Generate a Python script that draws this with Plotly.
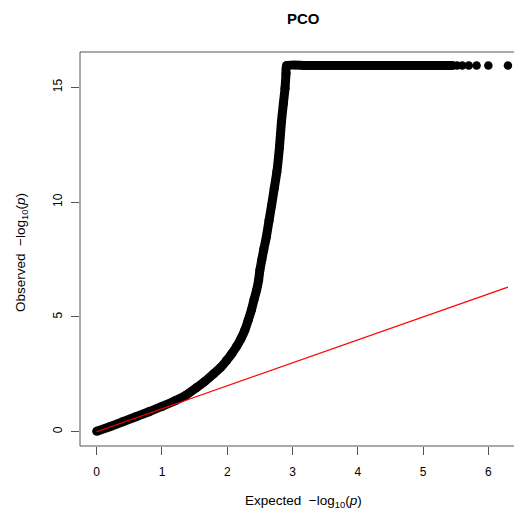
import plotly.graph_objects as go

# QQ curve (expected, observed -log10 p)
curve_expected = [0.00, 0.20, 0.40, 0.60, 0.80, 1.00, 1.20, 1.35, 1.53, 1.66, 1.79, 1.90,
                  1.99, 2.07, 2.14, 2.21, 2.27, 2.32, 2.37, 2.41, 2.45, 2.48, 2.50, 2.53,
                  2.56, 2.60, 2.64, 2.68, 2.72, 2.76, 2.80, 2.83, 2.86, 2.885, 2.90, 2.91,
                  3.20, 3.60, 4.00, 4.40, 4.80, 5.10, 5.30, 5.40, 5.45]
curve_observed = [0.02, 0.22, 0.43, 0.65, 0.87, 1.10, 1.35, 1.56, 1.92, 2.20, 2.52, 2.80,
                  3.10, 3.40, 3.70, 4.05, 4.43, 4.85, 5.30, 5.75, 6.17, 6.60, 7.04, 7.50,
                  7.95, 8.50, 9.20, 9.87, 10.60, 11.32, 12.40, 13.50, 14.30, 14.96, 15.60, 15.95,
                  15.95, 15.95, 15.95, 15.95, 15.95, 15.95, 15.95, 15.95, 15.95]

tail_expected = [5.52, 5.60, 5.70, 5.82, 6.00, 6.30]
tail_observed = [15.95, 15.95, 15.95, 15.95, 15.95, 15.95]

diag_x = [0, 6.3]
diag_y = [0, 6.3]

x_ticks = [0, 1, 2, 3, 4, 5, 6]
y_ticks = [0, 5, 10, 15]

FONT = "Liberation Sans, Arial, Helvetica, sans-serif"
AXC = "#555555"

fig = go.Figure()
fig.add_trace(go.Scatter(x=curve_expected, y=curve_observed, mode="lines+markers",
                         line=dict(color="black", width=9, shape="spline", smoothing=0.6),
                         marker=dict(color="black", size=9),
                         hoverinfo="skip", showlegend=False))
fig.add_trace(go.Scatter(x=tail_expected, y=tail_observed, mode="markers",
                         marker=dict(color="black", size=8.5),
                         hoverinfo="skip", showlegend=False))
fig.add_trace(go.Scatter(x=diag_x, y=diag_y, mode="lines",
                         line=dict(color="red", width=1.2),
                         hoverinfo="skip", showlegend=False))

fig.update_layout(
    width=514, height=515,
    margin=dict(l=80, r=0, t=52, b=69, pad=0),
    paper_bgcolor="white", plot_bgcolor="white",
    font=dict(family=FONT, size=12, color="black"),
    showlegend=False,
    xaxis=dict(range=[-0.256, 6.393], tickvals=x_ticks, ticktext=[str(v) for v in x_ticks],
               ticks="outside", ticklen=8, tickcolor=AXC, tickwidth=1,
               showgrid=False, zeroline=False, showline=False,
               ticklabelstandoff=7, tickfont=dict(size=12, color="black")),
    yaxis=dict(range=[-0.623, 16.54], tickvals=y_ticks, ticktext=[str(v) for v in y_ticks],
               ticks="outside", ticklen=8, tickcolor=AXC, tickwidth=1,
               showgrid=False, zeroline=False, showline=False, tickangle=-90,
               ticklabelstandoff=4, tickfont=dict(size=12, color="black")),
    shapes=[
        dict(type="line", xref="paper", yref="paper", x0=0, x1=1, y0=0, y1=0, line=dict(color=AXC, width=1)),
        dict(type="line", xref="paper", yref="paper", x0=0, x1=1, y0=1, y1=1, line=dict(color=AXC, width=1)),
        dict(type="line", xref="paper", yref="paper", x0=0, x1=0, y0=0, y1=1, line=dict(color=AXC, width=1)),
    ],
    annotations=[
        dict(text="<b>PCO</b>", xref="paper", yref="paper", x=0.514, y=1, xanchor="center",
             yanchor="middle", yshift=34, showarrow=False, font=dict(size=15, color="black")),
        dict(text="Expected  \u2212log<sub>10</sub>(<i>p</i>)", xref="paper", yref="paper", x=0.514, y=0,
             xanchor="center", yanchor="middle", yshift=-55, showarrow=False,
             font=dict(size=13.5, color="black")),
        dict(text="Observed  \u2212log<sub>10</sub>(<i>p</i>)", xref="paper", yref="paper", x=0, y=0.49,
             xanchor="center", yanchor="middle", xshift=-58, textangle=-90, showarrow=False,
             font=dict(size=13.5, color="black")),
    ],
)

fig.write_html("out.html", config={"displayModeBar": False},
               post_script="document.body.style.margin='0';document.body.style.overflow='hidden';")
